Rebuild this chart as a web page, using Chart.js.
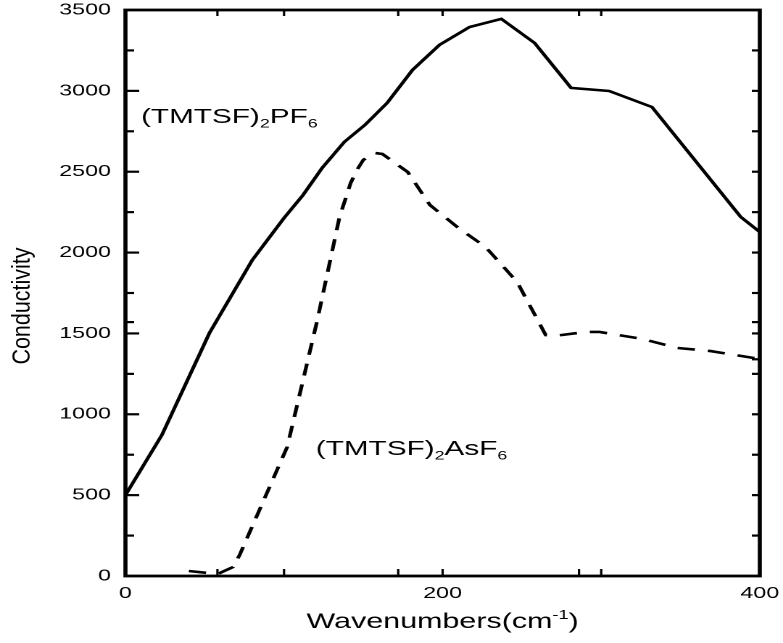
<!DOCTYPE html>
<html>
<head>
<meta charset="utf-8">
<script src="https://cdn.jsdelivr.net/npm/chart.js@4.4.1/dist/chart.umd.min.js"></script>
<style>
  html, body { margin: 0; padding: 0; background: #fff; overflow: hidden; }
  /* the original figure is stretched sideways, so the whole chart is too */
  #wrap { width: 540px; height: 643px; transform: scale(1.45, 1); transform-origin: 0 0; }
</style>
</head>
<body>
<div id="wrap"><canvas id="myChart" width="540" height="643"></canvas></div>
<script>
// (TMTSF)2PF6, solid line
const pf6X = [0, 23, 53, 80, 100, 112, 124, 138, 151, 165, 181, 198, 217, 237, 258, 281, 305, 332, 388, 400];
const pf6Y = [500, 872, 1503, 1954, 2214, 2356, 2523, 2684, 2789, 2925, 3129, 3284, 3395, 3445, 3296, 3018, 2999, 2900, 2220, 2127];

// (TMTSF)2AsF6, dashed line
const asf6X = [40, 58, 68, 72, 102, 121, 135, 142, 146, 150, 157, 162, 178, 192, 210, 227, 247, 265, 270, 290, 299, 326, 348, 369, 400];
const asf6Y = [31, 12, 56, 130, 798, 1583, 2220, 2430, 2511, 2573, 2616, 2610, 2498, 2294, 2152, 2035, 1818, 1490, 1484, 1509, 1509, 1466, 1410, 1391, 1342];

// tick marks as they sit on the original frame
const yMajorTicks = [500, 1000, 1500, 2000, 2500, 3000];
const yMinorTicks = [250, 750, 1250, 1570, 1750, 2250, 2750, 3250];
const rightTicks = [250, 500, 750, 1000, 1250, 1340, 1500, 1570, 1750, 2000, 2250, 2500, 2750, 3000, 3250];
const xFrameTicks = [58, 100, 172, 200, 286, 300];

// texts: [string, 0 normal / 1 subscript / -1 superscript]
const pf6Label = [['(TMTSF)', 0], ['2', 1], ['PF', 0], ['6', 1]];
const asf6Label = [['(TMTSF)', 0], ['2', 1], ['AsF', 0], ['6', 1]];
const xTitle = [['Wavenumbers(cm', 0], ['-1', -1], [')', 0]];
const yTitle = 'Conductivity';

const FONT = '"Liberation Sans", Arial, Helvetica, sans-serif';

function richWidth(ctx, parts, size) {
  let w = 0;
  parts.forEach(([t, s]) => {
    ctx.font = (s ? size * 0.6 : size) + 'px ' + FONT;
    w += ctx.measureText(t).width;
  });
  return w;
}

function drawRich(ctx, parts, x, y, size) {
  let cx = x;
  parts.forEach(([t, s]) => {
    ctx.font = (s ? size * 0.6 : size) + 'px ' + FONT;
    let dy = 0;
    if (s === 1) dy = size * 0.22;
    if (s === -1) dy = -size * 0.42;
    ctx.fillText(t, cx, y + dy);
    cx += ctx.measureText(t).width;
  });
}

function tickMark(ctx, x1, y1, x2, y2, w) {
  ctx.lineWidth = w;
  ctx.beginPath();
  ctx.moveTo(x1, y1);
  ctx.lineTo(x2, y2);
  ctx.stroke();
}

const framePlugin = {
  id: 'frame',
  afterDraw(chart) {
    const { ctx, chartArea: a, scales: { x, y } } = chart;
    ctx.save();
    ctx.setLineDash([]);
    ctx.strokeStyle = '#000';
    ctx.fillStyle = '#000';

    ctx.lineWidth = 2.8;
    ctx.strokeRect(a.left, a.top, a.right - a.left, a.bottom - a.top);

    // left and right ticks point inward
    yMajorTicks.forEach(v => {
      const p = y.getPixelForValue(v);
      tickMark(ctx, a.left, p, a.left + 9.5, p, 2.2);
    });
    yMinorTicks.forEach(v => {
      const p = y.getPixelForValue(v);
      tickMark(ctx, a.left, p, a.left + 6, p, 2.2);
    });
    rightTicks.forEach(v => {
      const p = y.getPixelForValue(v);
      tickMark(ctx, a.right, p, a.right - 5.5, p, 2.2);
    });
    xFrameTicks.forEach(v => {
      const p = x.getPixelForValue(v);
      tickMark(ctx, p, a.top, p, a.top + 6, 1.6);
      tickMark(ctx, p, a.bottom, p, a.bottom - 7, 1.6);
    });

    // curve names
    ctx.textAlign = 'left';
    ctx.textBaseline = 'alphabetic';
    drawRich(ctx, pf6Label, x.getPixelForValue(9.8), y.getPixelForValue(2801), 20.5);
    drawRich(ctx, asf6Label, x.getPixelForValue(120), y.getPixelForValue(748), 20.5);

    // axis titles
    const w = richWidth(ctx, xTitle, 21);
    drawRich(ctx, xTitle, (a.left + a.right) / 2 - w / 2, 628, 21);

    ctx.translate(15.5, 306);
    ctx.rotate(-Math.PI / 2);
    ctx.scale(1, 0.82);
    ctx.font = '21.5px ' + FONT;
    ctx.textAlign = 'center';
    ctx.textBaseline = 'middle';
    ctx.fillText(yTitle, 0, 0);
    ctx.restore();
  }
};

const ctx = document.getElementById('myChart').getContext('2d');

const myChart = new Chart(ctx, {
  type: 'line',
  data: {
    datasets: [{
      label: '(TMTSF)2PF6',
      data: pf6X.map((v, i) => ({ x: v, y: pf6Y[i] })),
      borderColor: '#000',
      borderWidth: 2.6,
      pointRadius: 0,
      fill: false,
      tension: 0
    }, {
      label: '(TMTSF)2AsF6',
      data: asf6X.map((v, i) => ({ x: v, y: asf6Y[i] })),
      borderColor: '#000',
      borderWidth: 2.6,
      borderDash: [12, 9],
      pointRadius: 0,
      fill: false,
      tension: 0
    }]
  },
  options: {
    responsive: false,
    animation: false,
    devicePixelRatio: 2,
    layout: { padding: { top: 10, right: 16, left: 0, bottom: 0 } },
    plugins: {
      legend: { display: false },
      tooltip: { enabled: false }
    },
    scales: {
      x: {
        type: 'linear',
        min: 0,
        max: 400,
        grid: { display: false, drawTicks: false },
        border: { display: false },
        ticks: { stepSize: 200, padding: 8, color: '#000', font: { family: FONT, size: 16 },
                 callback: (v) => String(v) },
        // fixed frame: no extra room for the end labels
        afterFit: (s) => { s.height = 67; s.paddingLeft = 0; s.paddingRight = 0; }
      },
      y: {
        min: 0,
        max: 3500,
        grid: { display: false, drawTicks: false },
        border: { display: false },
        ticks: { stepSize: 500, padding: 10, color: '#000', font: { family: FONT, size: 16 },
                 callback: (v) => String(v) },
        afterFit: (s) => { s.width = 86.5; s.paddingTop = 0; s.paddingBottom = 0; }
      }
    }
  },
  plugins: [framePlugin]
});
</script>
</body>
</html>
